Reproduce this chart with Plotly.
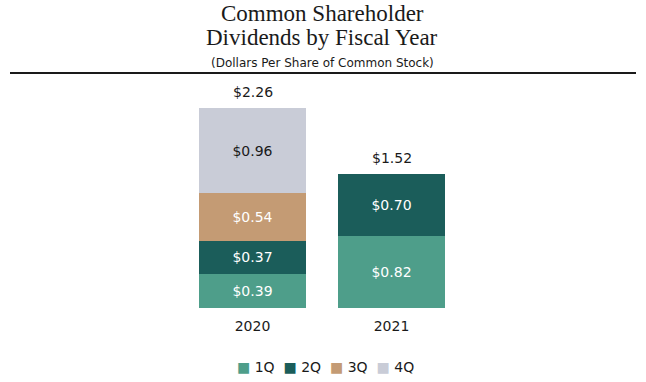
import plotly.graph_objects as go

years = ["2020", "2021"]
quarters = ["1Q", "2Q", "3Q", "4Q"]
q1 = [0.39, 0.82]
q2 = [0.37, 0.70]
q3 = [0.54, None]
q4 = [0.96, None]
totals = [2.26, 1.52]
colors = ["#4E9E8A", "#1B5D5A", "#C49B74", "#C9CCD7"]
text_colors = ["white", "white", "white", "#1a1a1a"]

W, H = 646, 382
L, R, T, B = 183, 185, 87, 74
pw, ph = W - L - R, H - T - B

def py(p):
    return (H - B - p) / ph

def px(p):
    return (p - L) / pw

fig = go.Figure()
for name, vals, c, tc in zip(quarters, [q1, q2, q3, q4], colors, text_colors):
    fig.add_trace(go.Bar(
        x=years, y=vals, name=name, marker=dict(color=c, line=dict(width=0)),
        text=[f"${v:.2f}" if v is not None else "" for v in vals],
        textposition="inside", insidetextanchor="middle",
        textfont=dict(color=tc, size=14, family="DejaVu Sans"),
        hoverinfo="skip", showlegend=False,
    ))

for i, t in enumerate(totals):
    fig.add_annotation(x=i, y=t, text=f"${t:.2f}", showarrow=False,
                       yanchor="bottom", yshift=6,
                       font=dict(size=14, color="#1a1a1a", family="DejaVu Sans"))

fig.add_annotation(xref="paper", yref="paper", x=0.5, y=py(13),
                   text="Common Shareholder", showarrow=False, yanchor="middle",
                   font=dict(size=23, color="#1a1a1a", family="Liberation Serif"))
fig.add_annotation(xref="paper", yref="paper", x=0.5, y=py(38),
                   text="Dividends by Fiscal Year", showarrow=False, yanchor="middle",
                   font=dict(size=23, color="#1a1a1a", family="Liberation Serif"))
fig.add_annotation(xref="paper", yref="paper", x=0.5, y=py(63),
                   text="(Dollars Per Share of Common Stock)", showarrow=False, yanchor="middle",
                   font=dict(size=12, color="#1a1a1a", family="DejaVu Sans"))
fig.add_shape(type="line", xref="paper", yref="paper",
              x0=px(10), x1=px(636), y0=py(73), y1=py(73),
              line=dict(color="#1a1a1a", width=2))

legend_html = "&nbsp;&nbsp;".join(
    f"<span style='color:{c}'>■</span> {q}" for q, c in zip(quarters, colors))
fig.add_annotation(xref="paper", yref="paper", x=px(325), y=py(367),
                   text=legend_html, showarrow=False, xanchor="center", yanchor="middle",
                   font=dict(size=14, color="#1a1a1a", family="DejaVu Sans"))

fig.update_layout(
    width=W, height=H, barmode="stack", bargap=0.23,
    margin=dict(l=L, r=R, t=T, b=B),
    plot_bgcolor="white", paper_bgcolor="white",
    showlegend=False,
    xaxis=dict(type="category", range=[-0.5, 1.5], showline=False, showgrid=False,
               zeroline=False, ticks="", ticklabelstandoff=8,
               tickfont=dict(size=14, color="#1a1a1a", family="DejaVu Sans")),
    yaxis=dict(range=[0, 2.5], visible=False),
)

fig.write_html("out.html", config={"displayModeBar": False},
               post_script="document.body.style.margin='0';")
